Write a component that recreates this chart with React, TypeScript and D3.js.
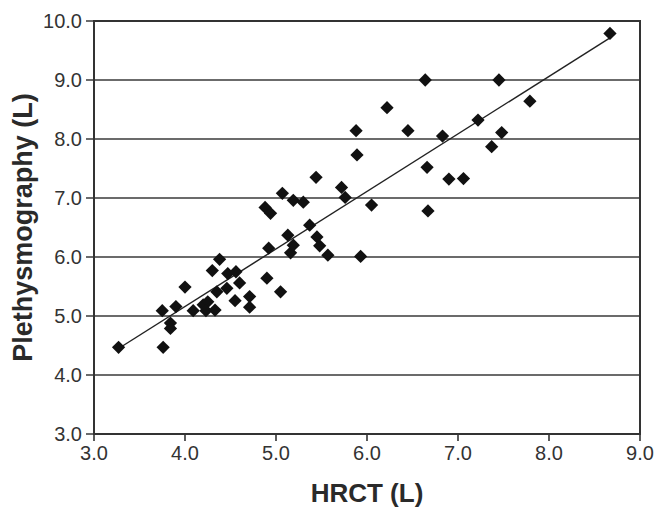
import React from "react";
import * as d3 from "d3";

const WIDTH = 666;
const HEIGHT = 519;
const MARGIN = { top: 21, right: 26, bottom: 85, left: 94 };

// HRCT (L) vs plethysmography (L)
const hrct = [
  3.27, 3.76, 3.75, 3.84, 3.84, 3.9, 4.0, 4.09, 4.2, 4.25, 4.23, 4.33, 4.3,
  4.38, 4.35, 4.46, 4.47, 4.56, 4.6, 4.55, 4.71, 4.71, 4.9, 5.05, 4.92, 4.88,
  4.94, 5.07, 5.13, 5.16, 5.19, 5.19, 5.3, 5.37, 5.44, 5.45, 5.48, 5.57, 5.72,
  5.76, 5.93, 5.88, 5.89, 6.05, 6.22, 6.45, 6.64, 6.66, 6.67, 6.83, 6.9, 7.06,
  7.22, 7.37, 7.45, 7.48, 7.79, 8.67,
];
const pleth = [
  4.47, 4.47, 5.09, 4.88, 4.79, 5.16, 5.49, 5.09, 5.19, 5.24, 5.09, 5.1, 5.77,
  5.96, 5.41, 5.47, 5.72, 5.75, 5.56, 5.26, 5.33, 5.15, 5.64, 5.41, 6.15, 6.84,
  6.74, 7.08, 6.37, 6.07, 6.2, 6.96, 6.93, 6.54, 7.35, 6.34, 6.19, 6.03, 7.18,
  7.01, 6.01, 8.14, 7.73, 6.88, 8.53, 8.14, 9.0, 7.52, 6.78, 8.05, 7.32, 7.33,
  8.32, 7.87, 9.0, 8.11, 8.64, 9.79,
];

const xTicks = [3, 4, 5, 6, 7, 8, 9];
const yTicks = [3, 4, 5, 6, 7, 8, 9, 10];

const FONT = "'Liberation Sans', Arial, Helvetica, sans-serif";

export default function App() {
  const innerW = WIDTH - MARGIN.left - MARGIN.right;
  const innerH = HEIGHT - MARGIN.top - MARGIN.bottom;

  const x = d3.scaleLinear().domain([3, 9]).range([0, innerW]);
  const y = d3.scaleLinear().domain([3, 10]).range([innerH, 0]);

  const points = hrct.map((v, i) => ({ x: v, y: pleth[i] }));

  // least squares fit over the data range
  const mx = d3.mean(hrct) as number;
  const my = d3.mean(pleth) as number;
  const sxy = d3.sum(points, (p) => (p.x - mx) * (p.y - my));
  const sxx = d3.sum(points, (p) => (p.x - mx) ** 2);
  const slope = sxy / sxx;
  const intercept = my - slope * mx;
  const [x0, x1] = d3.extent(hrct) as [number, number];
  const fit = d3
    .line<number>()
    .x((d) => x(d))
    .y((d) => y(intercept + slope * d))([x0, x1]);

  const diamond = d3.symbol().type(d3.symbolSquare).size(88)();

  return (
    <svg
      width={WIDTH}
      height={HEIGHT}
      style={{ position: "absolute", left: 0, top: 0, background: "#fff" }}
    >
      <g transform={`translate(${MARGIN.left},${MARGIN.top})`}>
        {yTicks.map((t) => (
          <g key={t} transform={`translate(0,${y(t)})`}>
            <line x1={-8} x2={innerW} stroke="#3a3a3a" strokeWidth={1.6} />
            <text
              x={-12}
              dy="0.36em"
              textAnchor="end"
              fontFamily={FONT}
              fontSize={20}
              fill="#333"
            >
              {t.toFixed(1)}
            </text>
          </g>
        ))}
        {xTicks.map((t) => (
          <g key={t} transform={`translate(${x(t)},${innerH})`}>
            <line y1={0} y2={7} stroke="#333" strokeWidth={1.6} />
            <text
              y={26}
              textAnchor="middle"
              fontFamily={FONT}
              fontSize={20}
              fill="#333"
            >
              {t.toFixed(1)}
            </text>
          </g>
        ))}
        <rect
          width={innerW}
          height={innerH}
          fill="none"
          stroke="#333"
          strokeWidth={2}
        />
        <path d={fit ?? ""} fill="none" stroke="#222" strokeWidth={1.4} />
        {points.map((p, i) => (
          <path
            key={i}
            d={diamond ?? ""}
            transform={`translate(${x(p.x)},${y(p.y)}) rotate(45)`}
            fill="#111"
          />
        ))}
        <text
          x={innerW / 2}
          y={innerH + 68}
          textAnchor="middle"
          fontFamily={FONT}
          fontSize={26}
          fontWeight="bold"
          fill="#2a2a2a"
        >
          HRCT (L)
        </text>
        <text
          transform={`translate(${-62},${innerH / 2}) rotate(-90)`}
          textAnchor="middle"
          fontFamily={FONT}
          fontSize={27}
          fontWeight="bold"
          fill="#2a2a2a"
        >
          Plethysmography (L)
        </text>
      </g>
    </svg>
  );
}
